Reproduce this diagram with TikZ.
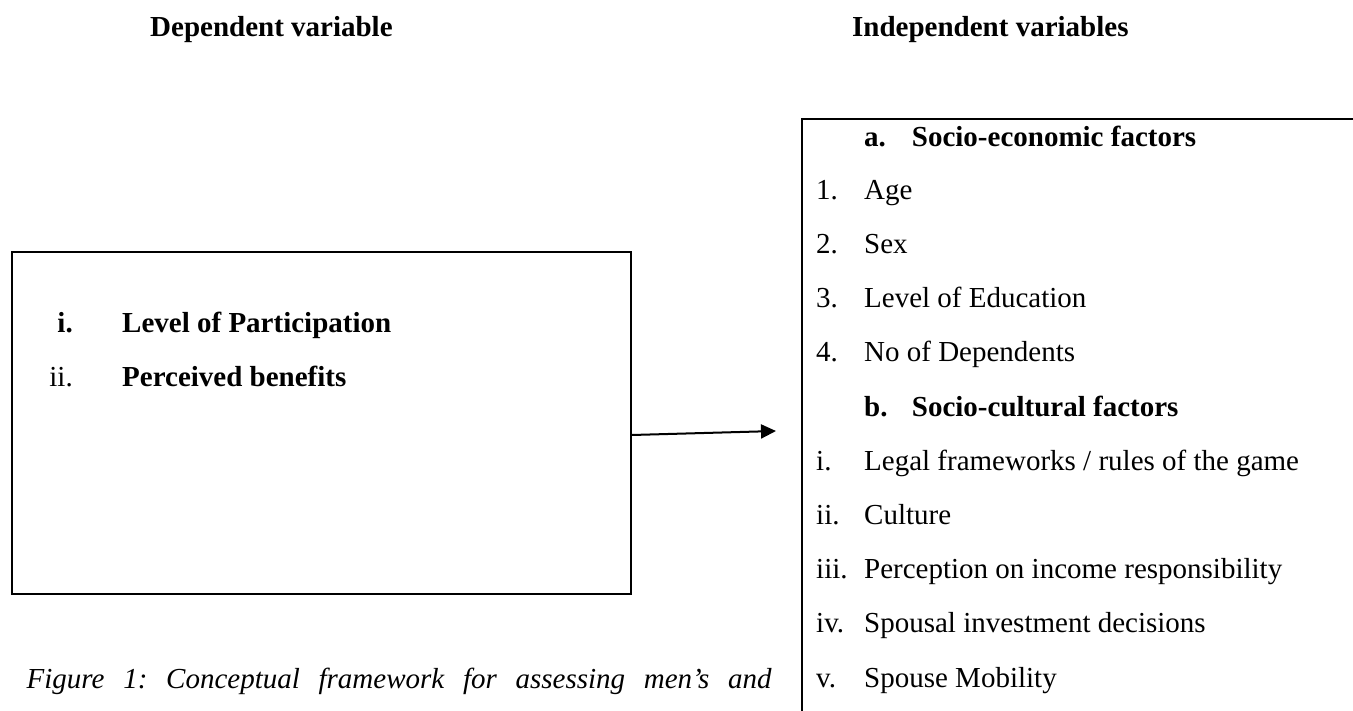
\documentclass[tikz,border=0pt]{standalone}
\usepackage{fontspec}
\setmainfont{Liberation Serif}
\usetikzlibrary{arrows.meta}
\frenchspacing
\begin{document}
\begin{tikzpicture}[x=1pt,y=-1pt,
  txt/.style={anchor=base west,inner sep=0pt,font=\fontsize{29}{35}\selectfont},
  btxt/.style={txt,font=\fontsize{29}{35}\selectfont\bfseries},
  rtxt/.style={anchor=base east,inner sep=0pt,font=\fontsize{29}{35}\selectfont},
  frame/.style={draw=black,line width=2pt,inner sep=0pt,anchor=north west},
  link/.style={line width=2pt,-{Triangle[length=15pt,width=14pt]}}]
\clip (0,0) rectangle (1353,711);
\fill[white] (0,0) rectangle (1353,711);

% column headings
\node[btxt] (hdep) at (150,36.7) {Dependent variable};
\node[btxt] (hindep) at (852,36.7) {Independent variables};

% dependent variable box
\node[frame,minimum width=619pt,minimum height=342pt] (lbox) at (11,251) {};
\node[rtxt,font=\fontsize{29}{35}\selectfont\bfseries] (dl1) at (73,333) {i.};
\node[btxt] (dt1) at (122,333) {Level of Participation};
\node[rtxt] (dl2) at (73,387) {ii.};
\node[btxt] (dt2) at (122,387) {Perceived benefits};

% independent variables box (runs past the page edges)
\node[frame,minimum width=700pt,minimum height=700pt] (rbox) at (801,118) {};
\node[btxt] (ga) at (864,146.7) {a.};
\node[btxt] (gat) at (911.7,146.7) {Socio-economic factors};
\node[txt] (n1) at (816,199.3) {1.};
\node[txt] (t1) at (864,199.3) {Age};
\node[txt] (n2) at (816,253.5) {2.};
\node[txt] (t2) at (864,253.5) {Sex};
\node[txt] (n3) at (816,307.7) {3.};
\node[txt] (t3) at (864,307.7) {Level of Education};
\node[txt] (n4) at (816,361.9) {4.};
\node[txt] (t4) at (864,361.9) {No of Dependents};
\node[btxt] (gb) at (864,416.1) {b.};
\node[btxt] (gbt) at (911.7,416.1) {Socio-cultural factors};
\node[txt] (r1) at (816,470.3) {i.};
\node[txt] (s1) at (864,470.3) {Legal frameworks / rules of the game};
\node[txt] (r2) at (816,524.5) {ii.};
\node[txt] (s2) at (864,524.5) {Culture};
\node[txt] (r3) at (816,578.7) {iii.};
\node[txt] (s3) at (864,578.7) {Perception on income responsibility};
\node[txt] (r4) at (816,632.9) {iv.};
\node[txt] (s4) at (864,632.9) {Spousal investment decisions};
\node[txt] (r5) at (816,687.1) {v.};
\node[txt] (s5) at (864,687.1) {Spouse Mobility};

% connector
\coordinate (arrowtip) at (776,431);
\draw[link] ([yshift=-12pt]lbox.east) -- (arrowtip);

% caption, justified to the full line width
\node[txt,font=\fontsize{29}{35}\selectfont\itshape] (cap) at (26.5,688)
  {\makebox[745pt][s]{Figure 1: Conceptual framework for assessing men’s and}};
\end{tikzpicture}
\end{document}
